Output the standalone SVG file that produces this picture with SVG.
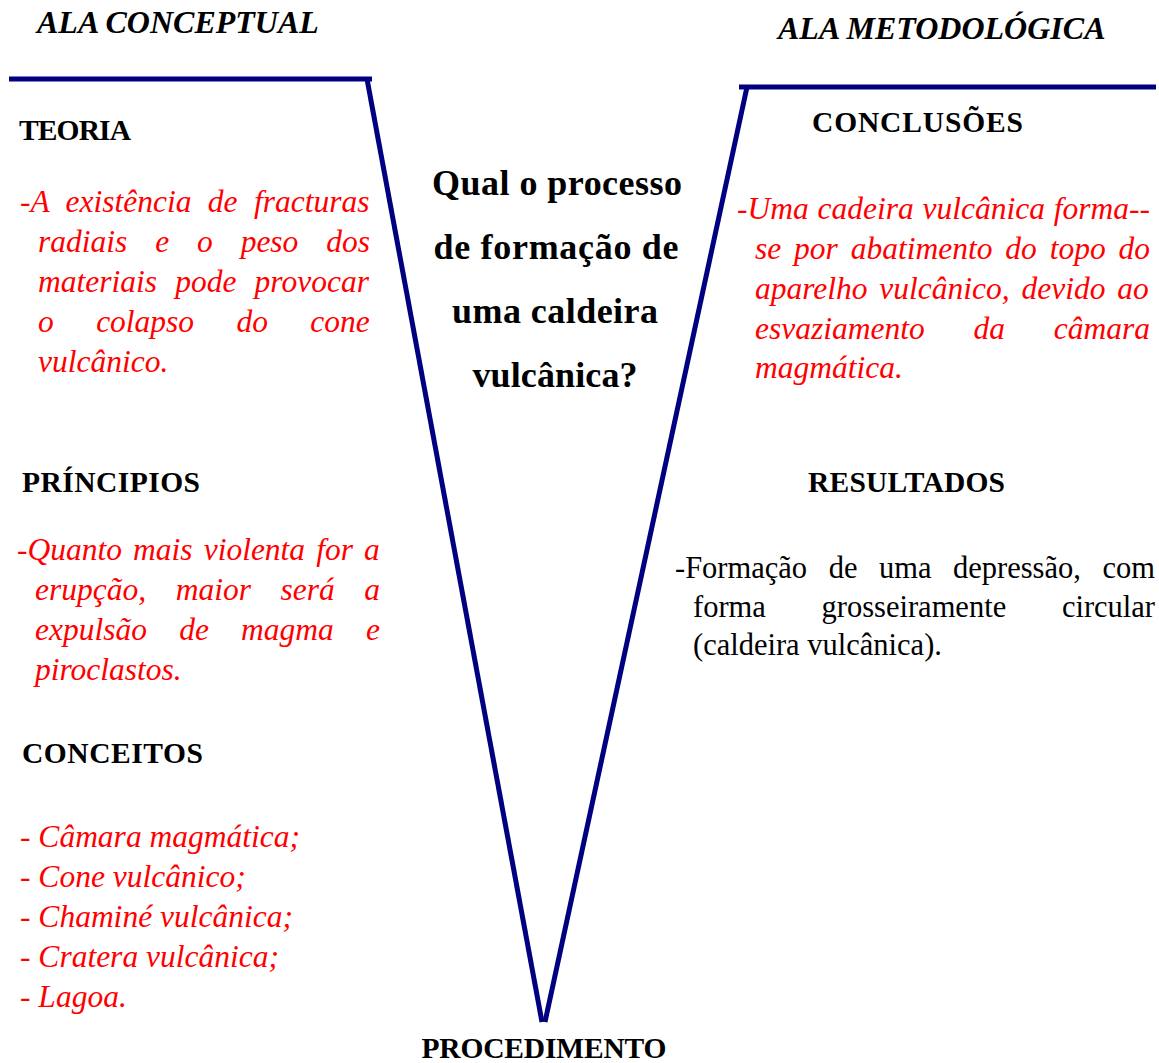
<svg xmlns="http://www.w3.org/2000/svg" width="1159" height="1063" viewBox="0 0 1159 1063">
<style>
text{font-family:"Liberation Serif","Times New Roman",serif;}
.wing{font-size:32px;font-weight:bold;font-style:italic;fill:#000;}
.hd{font-size:29.5px;font-weight:bold;fill:#000;}
.red{font-size:31.5px;font-style:italic;fill:#ff0000;}
.blk{font-size:30.5px;fill:#000;}
.q{font-size:36px;font-weight:bold;fill:#000;text-anchor:middle;}
.ln{stroke:#000080;stroke-width:5;fill:none;}
</style>
<rect width="1159" height="1063" fill="#fff"/>
<g id="connectors">
<line class="ln" x1="9" y1="79" x2="372" y2="79"/>
<line class="ln" x1="367" y1="79" x2="542" y2="1022"/>
<line class="ln" x1="739" y1="87" x2="1156" y2="87"/>
<line class="ln" x1="747" y1="87" x2="545" y2="1022"/>
</g>
<g id="ala-conceptual"><text class="wing" x="37" y="33">ALA CONCEPTUAL</text></g>
<g id="ala-metodologica"><text class="wing" x="778" y="39">ALA METODOLÓGICA</text></g>
<g id="teoria">
<text class="hd" x="19" y="140" textLength="112">TEORIA</text>
<text class="red" x="20" y="212" word-spacing="8.5">-A existência de fracturas</text>
<text class="red" x="38" y="252" word-spacing="20">radiais e o peso dos</text>
<text class="red" x="38" y="292" word-spacing="10.3">materiais pode provocar</text>
<text class="red" x="38" y="332" word-spacing="34.5">o colapso do cone</text>
<text class="red" x="38" y="372">vulcânico.</text>
</g>
<g id="principios">
<text class="hd" x="22" y="492" textLength="178">PRÍNCIPIOS</text>
<text class="red" x="17" y="560" word-spacing="3.2">-Quanto mais violenta for a</text>
<text class="red" x="35" y="600" word-spacing="21.7">erupção, maior será a</text>
<text class="red" x="35" y="640" word-spacing="24.3">expulsão de magma e</text>
<text class="red" x="35" y="680">piroclastos.</text>
</g>
<g id="conceitos">
<text class="hd" x="22" y="763" textLength="181">CONCEITOS</text>
<text class="red" x="20" y="847">- Câmara magmática;</text>
<text class="red" x="20" y="887">- Cone vulcânico;</text>
<text class="red" x="20" y="927">- Chaminé vulcânica;</text>
<text class="red" x="20" y="967">- Cratera vulcânica;</text>
<text class="red" x="20" y="1007">- Lagoa.</text>
</g>
<g id="pergunta">
<text class="q" x="557" y="195" textLength="250">Qual o processo</text>
<text class="q" x="556" y="259" textLength="245">de formação de</text>
<text class="q" x="555" y="323" textLength="206">uma caldeira</text>
<text class="q" x="555" y="387" textLength="165">vulcânica?</text>
</g>
<g id="conclusoes">
<text class="hd" x="812" y="132" textLength="211">CONCLUSÕES</text>
<text class="red" x="737" y="219" word-spacing="0.9">-Uma cadeira vulcânica forma--</text>
<text class="red" x="755" y="259" word-spacing="5">se por abatimento do topo do</text>
<text class="red" x="755" y="299" word-spacing="3.9">aparelho vulcânico, devido ao</text>
<text class="red" x="755" y="339" word-spacing="40.9">esvaziamento da câmara</text>
<text class="red" x="755" y="378">magmática.</text>
</g>
<g id="resultados">
<text class="hd" x="808" y="492" textLength="197">RESULTADOS</text>
<text class="blk" x="675" y="578" word-spacing="13.9">-Formação de uma depressão, com</text>
<text class="blk" x="693" y="617" word-spacing="48.1">forma grosseiramente circular</text>
<text class="blk" x="693" y="655">(caldeira vulcânica).</text>
</g>
<g id="procedimento">
<text class="hd" x="544" y="1058" text-anchor="middle" textLength="245">PROCEDIMENTO</text>
</g>
</svg>
